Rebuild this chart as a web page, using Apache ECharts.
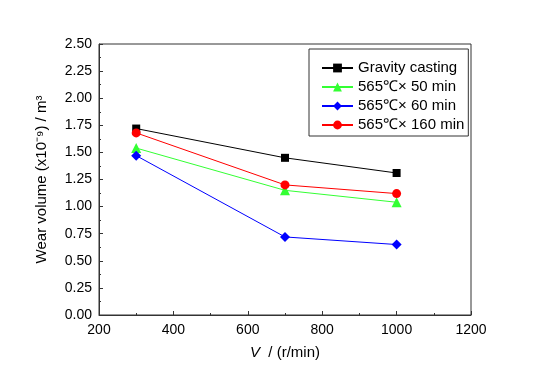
<!DOCTYPE html>
<html><head><meta charset="utf-8">
<script src="https://cdn.jsdelivr.net/npm/echarts@6/dist/echarts.min.js"></script>
<style>html,body{margin:0;padding:0;background:#fff}#c{width:550px;height:384px}</style>
</head><body><div id="c"></div>
<script>
const speeds = [300, 700, 1000];
const seriesNames = ['Gravity casting', '565\u2103\u00d7 50 min', '565\u2103\u00d7 60 min', '565\u2103\u00d7 160 min'];
const gravity = [1.72, 1.45, 1.31];
const t50 = [1.54, 1.15, 1.04];
const t60 = [1.47, 0.72, 0.65];
const t160 = [1.68, 1.20, 1.12];
const colors = ['#000000', '#33ff33', '#0000ff', '#ff0000'];
const symbols = ['rect', 'triangle', 'diamond', 'circle'];
const sizes = [8, 10, 10, 9];
const allVals = [gravity, t50, t60, t160];

const font = 'Liberation Sans, Arial, sans-serif';
const chart = echarts.init(document.getElementById('c'));
chart.setOption({
  backgroundColor: '#fff',
  animation: false,
  grid: {left: 99, right: 79, top: 44, bottom: 69, show: true, borderColor: '#333', borderWidth: 1, backgroundColor: 'transparent'},
  legend: {
    orient: 'vertical', left: 309, top: 49,
    borderColor: '#333', borderWidth: 1, padding: [11, 4, 3, 12],
    itemWidth: 31, itemHeight: 11, itemGap: 3,
    textStyle: {fontFamily: font, fontSize: 15, lineHeight: 16, color: '#000'},
    data: seriesNames
  },
  xAxis: {
    type: 'value', min: 200, max: 1200, interval: 200,
    name: '{i|V}  / (r/min)', nameLocation: 'middle', nameGap: 30,
    nameTextStyle: {fontFamily: font, fontSize: 15, color: '#000', rich: {i: {fontStyle: 'italic', fontFamily: font, fontSize: 15, color: '#000'}}},
    axisLine: {lineStyle: {color: '#333'}},
    axisTick: {inside: true, length: 4, lineStyle: {color: '#333'}},
    minorTick: {show: true, splitNumber: 2, length: 2, lineStyle: {color: '#333'}},
    axisLabel: {fontFamily: font, fontSize: 14, color: '#000', margin: 8, formatter: v => String(v)},
    splitLine: {show: false}
  },
  yAxis: {
    type: 'value', min: 0, max: 2.5, interval: 0.25,
    name: 'Wear volume (x10\u207b\u2079) / m\u00b3', nameLocation: 'middle', nameGap: 50,
    nameTextStyle: {fontFamily: font, fontSize: 15, color: '#000'},
    axisLine: {show: true, lineStyle: {color: '#333'}},
    axisTick: {show: true, inside: true, length: 4, lineStyle: {color: '#333'}},
    minorTick: {show: true, splitNumber: 2, length: 2, lineStyle: {color: '#333'}},
    axisLabel: {fontFamily: font, fontSize: 14, color: '#000', margin: 7, formatter: v => v.toFixed(2)},
    splitLine: {show: false}
  },
  series: seriesNames.map((n, i) => ({
    name: n, type: 'line',
    data: speeds.map((s, j) => [s, allVals[i][j]]),
    symbol: symbols[i], symbolSize: sizes[i], showSymbol: true,
    itemStyle: {color: colors[i]},
    lineStyle: {color: colors[i], width: 1}
  }))
});
</script></body></html>
